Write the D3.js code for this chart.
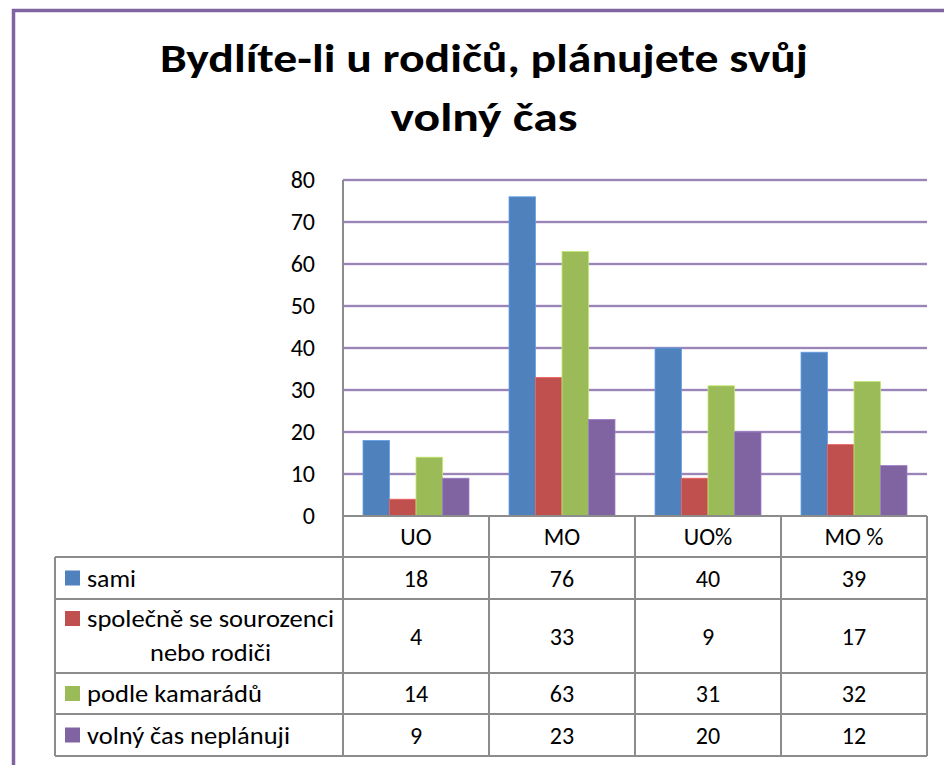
<!DOCTYPE html>
<html><head><meta charset="utf-8">
<script src="https://cdn.jsdelivr.net/npm/d3@7"></script>
<style>body{margin:0;background:#fff}svg{display:block}</style>
</head><body>
<script>
const categories = ["UO", "MO", "UO%", "MO %"];
const seriesNames = ["sami", "společně se sourozenci\nnebo rodiči", "podle kamarádů", "volný čas neplánuji"];
const sami = [18, 76, 40, 39];
const spolecne = [4, 33, 9, 17];
const kamaradi = [14, 63, 31, 32];
const neplanuji = [9, 23, 20, 12];
const yTicks = [0, 10, 20, 30, 40, 50, 60, 70, 80];
const colors = ["#4F81BD", "#C0504D", "#9BBB59", "#8064A2"];
const titleLines = ["Bydlíte-li u rodičů, plánujete svůj", "volný čas"];

const series = [sami, spolecne, kamaradi, neplanuji];
const W = 944, H = 765;
const FONT = "Carlito, Lato, 'Open Sans', sans-serif";
const svg = d3.select("body").append("svg").attr("width", W).attr("height", H);

// outer chart border (only top & left visible)
svg.append("rect").attr("x", 13.5).attr("y", 10.5).attr("width", 1200).attr("height", 1200)
  .attr("fill", "none").attr("stroke", "#8064A2").attr("stroke-width", 3.5);

// title
const title = svg.append("g").attr("font-family", FONT).attr("font-weight", "bold").attr("fill", "#000")
  .attr("text-anchor", "middle");
const tW = [648, 187], tY = [72, 131];
titleLines.forEach((t, i) => {
  title.append("text").attr("x", 484).attr("y", tY[i]).attr("font-size", 41)
    .attr("textLength", tW[i]).attr("lengthAdjust", "spacingAndGlyphs").text(t);
});

const x0 = 343, x1 = 927, yTop = 180, yBot = 516;
const x = d3.scaleBand().domain(categories).range([x0, x1]).paddingInner(0).paddingOuter(0);
const xs = d3.scaleBand().domain(d3.range(series.length)).range([0, x.bandwidth()]).paddingOuter(0.755).paddingInner(0);
const y = d3.scaleLinear().domain([0, 80]).range([yBot, yTop]);

// gridlines
const grid = svg.append("g");
yTicks.filter(v => v > 0).forEach(v => {
  grid.append("line").attr("x1", x0).attr("x2", x1).attr("y1", y(v)).attr("y2", y(v))
    .attr("stroke", "#b7a6cf").attr("stroke-width", 2.4);
  grid.append("line").attr("x1", x0).attr("x2", x1).attr("y1", y(v)).attr("y2", y(v))
    .attr("stroke", "#8064A2").attr("stroke-width", 1.2);
});

// y axis via d3.axisLeft
const yAxis = d3.axisLeft(y).tickValues(yTicks).tickSize(0).tickPadding(28).tickFormat(d3.format("d"));
const ga = svg.append("g").attr("transform", `translate(${x0},0)`).call(yAxis);
ga.select(".domain").remove();
ga.selectAll("text").attr("font-family", FONT).attr("font-size", 24).attr("fill", "#000");

// bars
categories.forEach((c, ci) => {
  series.forEach((s, si) => {
    svg.append("rect")
      .attr("x", x(c) + xs(si)).attr("width", xs.bandwidth())
      .attr("y", y(s[ci])).attr("height", y(0) - y(s[ci]))
      .attr("fill", colors[si]).attr("stroke", d3.color(colors[si]).brighter(0.6)).attr("stroke-width", 0.8);
  });
});

// table
const lineC = "#8c8c8c", lw = 2;
const rowY = [516, 557, 599, 673, 714, 756];
const legX = 55;
const tbl = svg.append("g").attr("stroke", lineC).attr("stroke-width", lw);
tbl.append("line").attr("x1", x0).attr("x2", x1).attr("y1", rowY[0]).attr("y2", rowY[0]);
rowY.slice(1).forEach(v => tbl.append("line").attr("x1", legX).attr("x2", x1).attr("y1", v).attr("y2", v));
tbl.append("line").attr("x1", x0).attr("x2", x0).attr("y1", yTop).attr("y2", rowY[5]);
tbl.append("line").attr("x1", legX).attr("x2", legX).attr("y1", rowY[1]).attr("y2", rowY[5]);
categories.forEach(c => {
  const xr = x(c) + x.bandwidth();
  tbl.append("line").attr("x1", xr).attr("x2", xr).attr("y1", rowY[0]).attr("y2", rowY[5]);
});

const txt = svg.append("g").attr("font-family", FONT).attr("font-size", 24).attr("fill", "#000");
categories.forEach(c => {
  txt.append("text").attr("x", x(c) + x.bandwidth() / 2).attr("y", (rowY[0] + rowY[1]) / 2)
    .attr("dy", "0.36em").attr("text-anchor", "middle").text(c);
});
const labelW = [[49], [247, 121], [175], [203]];
series.forEach((s, si) => {
  const cy = (rowY[si + 1] + rowY[si + 2]) / 2;
  const lines = seriesNames[si].split("\n");
  const firstY = lines.length > 1 ? rowY[si + 1] + 19.5 : cy;
  svg.append("rect").attr("x", 65).attr("y", firstY - 7.5).attr("width", 15).attr("height", 15).attr("fill", colors[si]);
  lines.forEach((l, li) => {
    const t = txt.append("text").attr("dy", "0.36em")
      .attr("textLength", labelW[si][li]).attr("lengthAdjust", "spacingAndGlyphs").text(l);
    if (li === 0) t.attr("x", 87).attr("y", firstY);
    else t.attr("x", 210.5).attr("y", firstY + li * 33.5).attr("text-anchor", "middle");
  });
  categories.forEach((c, ci) => {
    txt.append("text").attr("x", x(c) + x.bandwidth() / 2).attr("y", cy).attr("dy", "0.36em")
      .attr("text-anchor", "middle").text(s[ci]);
  });
});
</script>
</body></html>
